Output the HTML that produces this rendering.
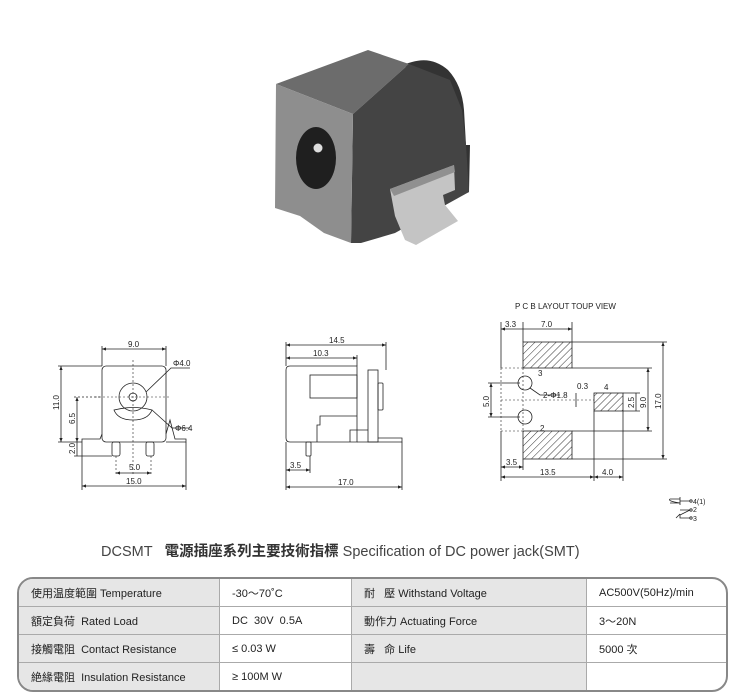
<!DOCTYPE html>
<html><head><meta charset="utf-8"><style>
body{margin:0;background:#fff;width:740px;height:700px;overflow:hidden;position:relative;font-family:"Liberation Sans","Noto Sans CJK TC",sans-serif}
svg{position:absolute;left:0;top:0}
.t{position:absolute;left:101px;top:540px;font-size:14.5px;color:#444;white-space:nowrap;font-family:"Liberation Sans Narrow","Liberation Sans","Noto Sans CJK TC",sans-serif}
.t b{font-family:"Noto Sans CJK TC",sans-serif;color:#333}
table{position:absolute;left:17px;top:577px;width:711px;height:113px;border-collapse:separate;border-spacing:0;border:2px solid #888;border-radius:16px;overflow:hidden;font-size:11px;color:#222;font-family:"Liberation Sans","Noto Sans CJK TC",sans-serif}
td{border-right:1px solid #aaa;border-bottom:1px solid #aaa;padding:0 0 0 12px;height:27px}
td:last-child{border-right:none}tr:last-child td{border-bottom:none}
.g{background:#e6e6e6}
</style></head><body>
<svg width="740" height="700" viewBox="0 0 740 700" font-family="Liberation Sans,sans-serif" font-size="8" fill="none" stroke="#222" stroke-width="0.8">
<defs><pattern id="h" width="5" height="5" patternUnits="userSpaceOnUse" patternTransform="rotate(45)"><line x1="0" y1="0" x2="0" y2="5" stroke="#333" stroke-width="1"/></pattern>
<marker id="a" markerWidth="6" markerHeight="6" refX="5" refY="3" orient="auto-start-reverse"><path d="M0,1 L5,3 L0,5z" fill="#222" stroke="none"/></marker></defs>
<!-- photo -->
<g stroke="none">
<path d="M405,64 L412,62 Q432,56 448,70 Q462,85 464,110 L466,145 L470,145 L469,192 L440,205 Z" fill="#333"/>
<polygon points="276,84 368,50 409,64 353,114" fill="#6c6c6c"/>
<polygon points="353,114 409,64 450,80 462,110 466,145 469,192 395,233 361,243 351,243" fill="#444"/>
<polygon points="276,84 353,114 351,243 324,233 300,216 275,208" fill="#8e8e8e"/>
<ellipse cx="316" cy="158" rx="20" ry="31" fill="#1f1f1f"/>
<circle cx="318" cy="148" r="4.5" fill="#ddd"/>
<path d="M390,189 L454,165 L455,190 L443,195 L445,205 L458,221 L416,245 L405,240 L395,216 Z" fill="#c4c4c4"/>
<path d="M390,189 L454,165 L455,172 L394,196 Z" fill="#909090"/>
</g>
<!-- front view -->
<g>
<rect x="102" y="366" width="64" height="76" rx="4"/>
<path d="M82,442 L82,439 L100,439 L102,434"/><path d="M166,434 L170,420 L175,439 L186,439 L186,442 L166,442"/>
<rect x="112" y="442" width="8" height="14" rx="2"/><rect x="146" y="442" width="8" height="14" rx="2"/>
<circle cx="133" cy="397" r="14"/><circle cx="133" cy="397" r="4"/>
<path d="M114,410 Q133,405 152,410 Q148,420 133,420 Q118,420 114,410Z"/>
<g stroke-dasharray="2,2" stroke-width="0.6"><line x1="133" y1="360" x2="133" y2="475"/><line x1="95" y1="397" x2="170" y2="397"/><line x1="116" y1="456" x2="116" y2="476"/><line x1="151" y1="456" x2="151" y2="476"/></g>
<line x1="102" y1="346" x2="102" y2="366"/><line x1="166" y1="346" x2="166" y2="366"/>
<line x1="102" y1="349" x2="166" y2="349" marker-start="url(#a)" marker-end="url(#a)"/>
<line x1="58" y1="366" x2="102" y2="366"/><line x1="58" y1="442" x2="82" y2="442"/>
<line x1="61" y1="366" x2="61" y2="442" marker-start="url(#a)" marker-end="url(#a)"/>
<line x1="74" y1="397" x2="100" y2="397" stroke-dasharray="2,2"/>
<line x1="77" y1="397" x2="77" y2="442" marker-start="url(#a)" marker-end="url(#a)"/>
<line x1="74" y1="456" x2="112" y2="456"/>
<line x1="77" y1="442" x2="77" y2="456"/>
<line x1="116" y1="473" x2="151" y2="473" marker-start="url(#a)" marker-end="url(#a)"/>
<line x1="82" y1="442" x2="82" y2="490"/><line x1="186" y1="442" x2="186" y2="490"/>
<line x1="82" y1="486" x2="186" y2="486" marker-start="url(#a)" marker-end="url(#a)"/>
<path d="M190,368 L171,368 L146,392"/><path d="M190,428 L172,428 L152,410"/>
</g>
<g fill="#222" stroke="none">
<text x="128" y="347">9.0</text><text x="173" y="366">Φ4.0</text><text x="175" y="431">Φ6.4</text>
<text x="129" y="470">5.0</text><text x="126" y="484">15.0</text>
<text transform="translate(59,410) rotate(-90)">11.0</text><text transform="translate(75,424) rotate(-90)">6.5</text><text transform="translate(75,454) rotate(-90)">2.0</text>
</g>
<!-- side view -->
<g>
<path d="M290,366 L357,366 L357,442 L290,442 Q286,442 286,438 L286,370 Q286,366 290,366Z"/>
<rect x="310" y="375" width="47" height="23"/>
<rect x="368" y="370" width="10" height="72"/>
<rect x="378" y="383" width="5" height="27" rx="1"/>
<path d="M357,416 L320,416 L320,425 L317,425 L317,442"/>
<path d="M368,430 L350,430 L350,442"/>
<path d="M378,438 L402,438 L402,442 L357,442"/>
<rect x="306" y="442" width="5" height="14" rx="1"/>
<line x1="286" y1="342" x2="286" y2="366"/><line x1="386" y1="342" x2="386" y2="370"/><line x1="357" y1="355" x2="357" y2="366"/>
<line x1="286" y1="345" x2="386" y2="345" marker-start="url(#a)" marker-end="url(#a)"/>
<line x1="286" y1="358" x2="357" y2="358" marker-start="url(#a)" marker-end="url(#a)"/>
<line x1="286" y1="442" x2="286" y2="490"/><line x1="310" y1="456" x2="310" y2="473"/><line x1="402" y1="442" x2="402" y2="490"/>
<line x1="286" y1="470" x2="310" y2="470" marker-start="url(#a)" marker-end="url(#a)"/>
<line x1="286" y1="487" x2="402" y2="487" marker-start="url(#a)" marker-end="url(#a)"/>
</g>
<g fill="#222" stroke="none"><text x="329" y="343">14.5</text><text x="313" y="356">10.3</text><text x="290" y="468">3.5</text><text x="338" y="485">17.0</text></g>
<!-- PCB -->
<g>
<rect x="523" y="342" width="49" height="26" fill="url(#h)"/>
<rect x="523" y="431" width="49" height="28" fill="url(#h)"/>
<rect x="594" y="393" width="29" height="18" fill="url(#h)"/>
<circle cx="525" cy="383" r="7"/><circle cx="525" cy="417" r="7"/>
<g stroke-dasharray="2,2" stroke-width="0.6"><line x1="501" y1="368" x2="501" y2="431"/><line x1="501" y1="368" x2="523" y2="368"/><line x1="501" y1="431" x2="523" y2="431"/><line x1="501" y1="400" x2="594" y2="400"/><line x1="523" y1="368" x2="523" y2="431"/></g>
<line x1="501" y1="322" x2="501" y2="368"/><line x1="523" y1="322" x2="523" y2="342"/><line x1="572" y1="322" x2="572" y2="342"/>
<line x1="501" y1="329" x2="572" y2="329" marker-start="url(#a)" marker-end="url(#a)"/>
<line x1="572" y1="342" x2="667" y2="342"/><line x1="572" y1="459" x2="667" y2="459"/>
<line x1="663" y1="342" x2="663" y2="459" marker-start="url(#a)" marker-end="url(#a)"/>
<line x1="572" y1="368" x2="652" y2="368"/><line x1="572" y1="431" x2="652" y2="431"/>
<line x1="648" y1="368" x2="648" y2="431" marker-start="url(#a)" marker-end="url(#a)"/>
<line x1="623" y1="393" x2="640" y2="393"/><line x1="623" y1="411" x2="640" y2="411"/>
<line x1="636" y1="393" x2="636" y2="411"/>
<line x1="488" y1="383" x2="520" y2="383"/><line x1="488" y1="417" x2="520" y2="417"/>
<line x1="491" y1="383" x2="491" y2="417" marker-start="url(#a)" marker-end="url(#a)"/>
<line x1="576" y1="393" x2="576" y2="407"/>
<path d="M530,388 L540,395 L560,395"/>
<line x1="501" y1="431" x2="501" y2="481"/><line x1="523" y1="459" x2="523" y2="470"/>
<line x1="594" y1="411" x2="594" y2="481"/><line x1="623" y1="411" x2="623" y2="481"/>
<line x1="501" y1="467" x2="523" y2="467" marker-start="url(#a)" marker-end="url(#a)"/>
<line x1="501" y1="477" x2="594" y2="477" marker-start="url(#a)" marker-end="url(#a)"/>
<line x1="594" y1="477" x2="623" y2="477" marker-start="url(#a)" marker-end="url(#a)"/>
<path d="M670,499 L680,499 M670,503 L680,503 Q667,501 670,499 M680,497 L680,505 M680,501 L690,501"/>
<circle cx="691" cy="501" r="1.2"/><circle cx="691" cy="510" r="1.2"/><circle cx="691" cy="518" r="1.2"/>
<path d="M680,510 L690,510 L680,515 L680,518 L690,518 M676,518 L680,514"/>
</g>
<g fill="#222" stroke="none" font-size="8">
<text x="515" y="309">P C B LAYOUT  TOUP VIEW</text>
<text x="505" y="327">3.3</text><text x="541" y="327">7.0</text>
<text x="538" y="376">3</text><text x="540" y="431">2</text><text x="604" y="390">4</text>
<text x="543" y="398">2-Φ1.8</text><text x="577" y="389">0.3</text>
<text x="506" y="465">3.5</text><text x="540" y="475">13.5</text><text x="602" y="475">4.0</text>
<text transform="translate(489,407) rotate(-90)">5.0</text><text transform="translate(634,408) rotate(-90)">2.5</text>
<text transform="translate(646,408) rotate(-90)">9.0</text><text transform="translate(661,409) rotate(-90)">17.0</text>
<text x="693" y="504" font-size="7">4(1)</text><text x="693" y="512" font-size="7">2</text><text x="693" y="521" font-size="7">3</text>
</g>
</svg>
<div class="t">DCSMT&nbsp;&nbsp; <b>電源插座系列主要技術指標</b> Specification of DC power jack(SMT)</div>
<table>
<tr><td class="g" style="width:188px">使用温度範圍 Temperature</td><td style="width:119px">-30～70˚C</td><td class="g" style="width:222px">耐&nbsp;&nbsp;&nbsp;壓 Withstand Voltage</td><td>AC500V(50Hz)/min</td></tr>
<tr><td class="g">額定負荷 &nbsp;Rated Load</td><td>DC &nbsp;30V &nbsp;0.5A</td><td class="g">動作力 Actuating Force</td><td>3～20N</td></tr>
<tr><td class="g">接觸電阻 &nbsp;Contact Resistance</td><td>≤ 0.03 W</td><td class="g">壽&nbsp;&nbsp;&nbsp;命 Life</td><td>5000 次</td></tr>
<tr><td class="g">絶緣電阻 &nbsp;Insulation Resistance</td><td>≥ 100M W</td><td class="g"></td><td></td></tr>
</table>
</body></html>
